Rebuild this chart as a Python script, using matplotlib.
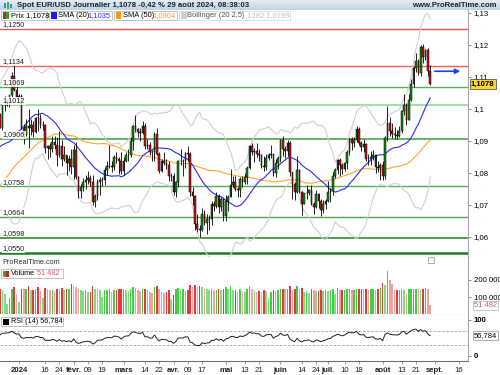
import numpy as np
import pandas as pd
import matplotlib
matplotlib.use("Agg")
import matplotlib.pyplot as plt
from matplotlib.patches import Rectangle
from matplotlib.transforms import blended_transform_factory as btf
from matplotlib.colors import LinearSegmentedColormap

plt.rcParams['font.family'] = ['Liberation Sans', 'DejaVu Sans']

# ---------------- data ----------------
first_date = '2023-12-20'
last_date = '2024-08-29'

# closes before the visible window (used only to warm up the indicators)
warmup_closes = [
    1.0563, 1.0605, 1.0620, 1.0530, 1.0510, 1.0555, 1.0575, 1.0535, 1.0585, 1.0594,
    1.0668, 1.0590, 1.0565, 1.0563, 1.0565, 1.0615, 1.0575,
    1.0570, 1.0620, 1.0730, 1.0710, 1.0695, 1.0710, 1.0665, 1.0685, 1.0700, 1.0880,
    1.0850, 1.0850, 1.0912, 1.0940, 1.0910, 1.0888, 1.0903, 1.0940, 1.0955, 1.0990,
    1.0970, 1.0890,
    1.0880, 1.0835, 1.0795, 1.0765, 1.0795, 1.0760, 1.0765, 1.0795, 1.0875, 1.0990,
    1.0895, 1.0923, 1.0981]

opens = [
    # Dec
    1.0981, 1.0942, 1.1011, 1.1013, 1.1026, 1.1043, 1.1104, 1.1060,
    # Jan
    1.1039, 1.1040, 1.0940, 1.0920, 1.0946, 1.0941, 1.0950, 1.0929, 1.0973, 1.0972,
    1.0950, 1.0951, 1.0878, 1.0884, 1.0874, 1.0896, 1.0886, 1.0855, 1.0884, 1.0845,
    1.0855, 1.0832, 1.0845,
    # Feb
    1.0818, 1.0873, 1.0787, 1.0743, 1.0756, 1.0773, 1.0779, 1.0784, 1.0772, 1.0708,
    1.0727, 1.0773, 1.0777, 1.0778, 1.0808, 1.0821, 1.0823, 1.0820, 1.0850, 1.0845,
    1.0836,
    # Mar
    1.0805, 1.0838, 1.0856, 1.0856, 1.0899, 1.0948, 1.0937, 1.0928, 1.0926, 1.0948,
    1.0883, 1.0889, 1.0867, 1.0865, 1.0922, 1.0860, 1.0806, 1.0839, 1.0831, 1.0826,
    1.0790,
    # Apr
    1.0790, 1.0741, 1.0771, 1.0836, 1.0837, 1.0837, 1.0861, 1.0858, 1.0742, 1.0727,
    1.0642, 1.0625, 1.0622, 1.0671, 1.0643, 1.0655, 1.0655, 1.0703, 1.0698, 1.0729,
    1.0694, 1.0719,
    # May
    1.0665, 1.0713, 1.0726, 1.0762, 1.0772, 1.0751, 1.0748, 1.0781, 1.0771, 1.0789,
    1.0817, 1.0883, 1.0865, 1.0870, 1.0858, 1.0856, 1.0822, 1.0818, 1.0847, 1.0857,
    1.0858, 1.0801, 1.0832,
    # Jun
    1.0848, 1.0903, 1.0876, 1.0868, 1.0893, 1.0802, 1.0765, 1.0740, 1.0810, 1.0740,
    1.0703, 1.0736, 1.0739, 1.0748, 1.0704, 1.0693, 1.0733, 1.0714, 1.0683, 1.0702,
    # Jul
    1.0713, 1.0740, 1.0744, 1.0790, 1.0809, 1.0840, 1.0826, 1.0813, 1.0831, 1.0865,
    1.0907, 1.0894, 1.0902, 1.0938, 1.0895, 1.0882, 1.0892, 1.0845, 1.0843, 1.0850,
    1.0855, 1.0819, 1.0815,
    # Aug
    1.0825, 1.0790, 1.0910, 1.0955, 1.0931, 1.0922, 1.0920, 1.0916, 1.0931, 1.0993,
    1.1012, 1.0967, 1.1027, 1.1077, 1.1129, 1.1151, 1.1113, 1.1193, 1.1162, 1.1184,
    1.1118]

highs = [
    1.0988, 1.1013, 1.1040, 1.1030, 1.1045, 1.1115, 1.1139, 1.1078,
    1.1048, 1.1046, 1.0954, 1.0970, 1.1000, 1.0968, 1.0963, 1.0975, 1.0999, 1.0985,
    1.0963, 1.0953, 1.0888, 1.0895, 1.0915, 1.0915, 1.0913, 1.0932, 1.0904, 1.0885,
    1.0857, 1.0855, 1.0874,
    1.0889, 1.0897, 1.0790, 1.0765, 1.0785, 1.0793, 1.0805, 1.0793, 1.0795, 1.0735,
    1.0780, 1.0788, 1.0789, 1.0820, 1.0838, 1.0888, 1.0838, 1.0856, 1.0865, 1.0850,
    1.0866,
    1.0850, 1.0867, 1.0875, 1.0911, 1.0951, 1.0981, 1.0942, 1.0941, 1.0964, 1.0956,
    1.0907, 1.0898, 1.0872, 1.0929, 1.0942, 1.0865, 1.0843, 1.0866, 1.0843, 1.0838,
    1.0799,
    1.0800, 1.0775, 1.0840, 1.0876, 1.0843, 1.0866, 1.0885, 1.0866, 1.0755, 1.0730,
    1.0673, 1.0637, 1.0691, 1.0683, 1.0673, 1.0668, 1.0714, 1.0713, 1.0742, 1.0735,
    1.0725, 1.0723,
    1.0730, 1.0731, 1.0811, 1.0790, 1.0790, 1.0757, 1.0786, 1.0790, 1.0800, 1.0823,
    1.0887, 1.0895, 1.0878, 1.0894, 1.0874, 1.0860, 1.0852, 1.0858, 1.0864, 1.0889,
    1.0860, 1.0845, 1.0852,
    1.0907, 1.0916, 1.0885, 1.0902, 1.0901, 1.0804, 1.0771, 1.0852, 1.0813, 1.0744,
    1.0739, 1.0762, 1.0751, 1.0761, 1.0710, 1.0746, 1.0739, 1.0718, 1.0715, 1.0720,
    1.0776, 1.0752, 1.0802, 1.0816, 1.0845, 1.0846, 1.0830, 1.0834, 1.0871, 1.0910,
    1.0911, 1.0912, 1.0948, 1.0943, 1.0901, 1.0905, 1.0895, 1.0858, 1.0868, 1.0871,
    1.0858, 1.0838, 1.0830,
    1.0836, 1.0916, 1.1009, 1.0975, 1.0956, 1.0945, 1.0935, 1.0947, 1.0997, 1.1047,
    1.1020, 1.1048, 1.1093, 1.1133, 1.1174, 1.1155, 1.1201, 1.1202, 1.1189, 1.1190,
    1.1139]

lows = [
    1.0940, 1.0935, 1.0995, 1.1010, 1.1005, 1.1036, 1.1055, 1.1031,
    1.1030, 1.0939, 1.0892, 1.0915, 1.0877, 1.0920, 1.0914, 1.0925, 1.0930, 1.0940,
    1.0933, 1.0862, 1.0844, 1.0850, 1.0865, 1.0876, 1.0822, 1.0850, 1.0821, 1.0838,
    1.0795, 1.0805, 1.0796,
    1.0780, 1.0780, 1.0723, 1.0722, 1.0745, 1.0750, 1.0765, 1.0760, 1.0701, 1.0695,
    1.0715, 1.0732, 1.0760, 1.0762, 1.0795, 1.0815, 1.0804, 1.0808, 1.0830, 1.0796,
    1.0797,
    1.0794, 1.0833, 1.0839, 1.0849, 1.0872, 1.0929, 1.0911, 1.0900, 1.0922, 1.0876,
    1.0875, 1.0856, 1.0836, 1.0838, 1.0855, 1.0801, 1.0803, 1.0826, 1.0811, 1.0775,
    1.0774,
    1.0731, 1.0724, 1.0757, 1.0826, 1.0791, 1.0816, 1.0836, 1.0728, 1.0699, 1.0622,
    1.0617, 1.0601, 1.0618, 1.0638, 1.0610, 1.0623, 1.0636, 1.0680, 1.0690, 1.0675,
    1.0682, 1.0650,
    1.0650, 1.0680, 1.0724, 1.0755, 1.0744, 1.0724, 1.0725, 1.0755, 1.0765, 1.0767,
    1.0812, 1.0855, 1.0835, 1.0851, 1.0837, 1.0815, 1.0805, 1.0810, 1.0840, 1.0847,
    1.0790, 1.0789, 1.0812,
    1.0835, 1.0852, 1.0848, 1.0852, 1.0790, 1.0719, 1.0717, 1.0738, 1.0736, 1.0668,
    1.0702, 1.0718, 1.0730, 1.0700, 1.0671, 1.0690, 1.0690, 1.0666, 1.0676, 1.0686,
    1.0710, 1.0710, 1.0730, 1.0784, 1.0797, 1.0791, 1.0798, 1.0806, 1.0814, 1.0856,
    1.0872, 1.0880, 1.0897, 1.0886, 1.0869, 1.0867, 1.0837, 1.0825, 1.0826, 1.0840,
    1.0801, 1.0802, 1.0777,
    1.0777, 1.0780, 1.0900, 1.0916, 1.0909, 1.0905, 1.0905, 1.0912, 1.0925, 1.0982,
    1.0949, 1.0965, 1.1024, 1.1070, 1.1115, 1.1105, 1.1102, 1.1143, 1.1152, 1.1102,
    1.1074]

closes = [
    1.0942, 1.1011, 1.1013, 1.1026, 1.1043, 1.1104, 1.1060, 1.1039,
    1.1040, 1.0940, 1.0920, 1.0946, 1.0941, 1.0950, 1.0929, 1.0973, 1.0972, 1.0950,
    1.0951, 1.0878, 1.0884, 1.0874, 1.0896, 1.0886, 1.0855, 1.0884, 1.0845, 1.0855,
    1.0832, 1.0845, 1.0818,
    1.0873, 1.0787, 1.0743, 1.0756, 1.0773, 1.0779, 1.0784, 1.0772, 1.0708, 1.0727,
    1.0773, 1.0777, 1.0778, 1.0808, 1.0821, 1.0823, 1.0820, 1.0850, 1.0845, 1.0836,
    1.0805,
    1.0838, 1.0856, 1.0856, 1.0899, 1.0948, 1.0937, 1.0928, 1.0926, 1.0948, 1.0883,
    1.0889, 1.0867, 1.0865, 1.0922, 1.0860, 1.0806, 1.0839, 1.0831, 1.0826, 1.0790,
    1.0790,
    1.0741, 1.0771, 1.0836, 1.0837, 1.0837, 1.0861, 1.0858, 1.0742, 1.0727, 1.0642,
    1.0625, 1.0622, 1.0671, 1.0643, 1.0655, 1.0655, 1.0703, 1.0698, 1.0729, 1.0694,
    1.0719, 1.0665,
    1.0713, 1.0726, 1.0762, 1.0772, 1.0751, 1.0748, 1.0781, 1.0771, 1.0789, 1.0817,
    1.0883, 1.0865, 1.0870, 1.0858, 1.0856, 1.0822, 1.0818, 1.0847, 1.0857, 1.0858,
    1.0801, 1.0832, 1.0848,
    1.0903, 1.0876, 1.0868, 1.0893, 1.0802, 1.0765, 1.0740, 1.0810, 1.0740, 1.0703,
    1.0736, 1.0739, 1.0748, 1.0704, 1.0693, 1.0733, 1.0714, 1.0683, 1.0702, 1.0713,
    1.0740, 1.0744, 1.0790, 1.0809, 1.0840, 1.0826, 1.0813, 1.0831, 1.0865, 1.0907,
    1.0894, 1.0902, 1.0938, 1.0895, 1.0882, 1.0892, 1.0845, 1.0843, 1.0850, 1.0855,
    1.0819, 1.0815, 1.0825,
    1.0790, 1.0910, 1.0955, 1.0931, 1.0922, 1.0920, 1.0916, 1.0931, 1.0993, 1.1012,
    1.0967, 1.1027, 1.1077, 1.1129, 1.1151, 1.1113, 1.1193, 1.1162, 1.1184, 1.1118,
    1.1078]

volumes = [
    150000, 140000, 120000, 60000, 95000, 145000, 160000, 120000,
    70000, 150000, 148000, 150000, 165000, 140000, 140000, 150000, 160000, 138000,
    95000, 155000, 145000, 140000, 140000, 135000, 150000, 145000, 155000, 140000,
    145000, 150000, 175000,
    165000, 160000, 150000, 140000, 135000, 140000, 130000, 130000, 165000, 150000,
    145000, 140000, 100000, 140000, 140000, 150000, 130000, 140000, 140000, 145000,
    150000,
    150000, 140000, 135000, 150000, 160000, 155000, 140000, 135000, 145000, 150000,
    140000, 130000, 125000, 160000, 165000, 150000, 130000, 125000, 130000, 140000,
    90000,
    110000, 150000, 155000, 150000, 150000, 135000, 140000, 170000, 160000, 170000,
    160000, 165000, 160000, 150000, 145000, 140000, 145000, 140000, 140000, 145000,
    140000, 150000,
    160000, 150000, 165000, 140000, 140000, 130000, 145000, 135000, 130000, 150000,
    165000, 150000, 140000, 130000, 135000, 130000, 140000, 135000, 95000, 130000,
    140000, 135000, 140000,
    145000, 150000, 145000, 150000, 165000, 140000, 145000, 165000, 150000, 155000,
    130000, 135000, 125000, 145000, 140000, 135000, 135000, 140000, 135000, 140000,
    135000, 140000, 150000, 120000, 155000, 140000, 140000, 140000, 150000, 150000,
    140000, 140000, 150000, 150000, 150000, 145000, 150000, 140000, 145000, 150000,
    140000, 145000, 155000,
    180000, 170000, 255000, 200000, 175000, 140000, 140000, 140000, 150000, 140000,
    125000, 150000, 150000, 150000, 150000, 145000, 140000, 150000, 155000, 145000,
    51482]

level_values = [1.1250, 1.1134, 1.1069, 1.1012, 1.0906, 1.0758, 1.0664, 1.0598, 1.0550]
level_labels = ['1,1250', '1,1134', '1,1069', '1,1012', '1,0906', '1,0758', '1,0664', '1,0598', '1,0550']
level_colors = ['#ff4a4a', '#ff5a5a', '#55b055', '#a9dca9', '#3f9f3f', '#5aaa5a', '#4aa84a', '#2f8f2f', '#1f7a1f']
level_widths = [1.0, 1.0, 1.0, 1.6, 1.1, 1.0, 1.0, 1.2, 1.8]

xtick_dates = ['2024-01-01', '2024-01-16', '2024-01-24', '2024-02-01', '2024-02-09',
               '2024-02-19', '2024-03-01', '2024-03-14', '2024-03-22', '2024-04-01',
               '2024-04-09', '2024-04-17', '2024-05-01', '2024-05-13', '2024-05-21',
               '2024-06-03', '2024-06-14', '2024-06-24', '2024-07-01', '2024-07-10',
               '2024-07-18', '2024-08-01', '2024-08-13', '2024-08-21', '2024-09-02',
               '2024-09-16']
xtick_labels = ['2024', '16', '24', 'févr.', '09', '19', 'mars', '14', '22', 'avr.',
                '09', '17', 'mai', '13', '21', 'juin', '14', '24', 'juil.', '10', '18',
                'août', '13', '21', 'sept.', '16']
xtick_bold = ['2024', 'févr.', 'mars', 'avr.', 'mai', 'juin', 'juil.', 'août', 'sept.']

price_ticks = [1.06, 1.07, 1.08, 1.09, 1.10, 1.11, 1.12, 1.13]

title_text = 'Spot EUR/USD Journalier 1,1078 -0,42 % 29 août 2024, 08:38:03'
# ---------------- computations ----------------
dates = pd.bdate_range(first_date, last_date)
n = len(dates)
idx = np.arange(n)
o = np.array(opens); h = np.array(highs); l = np.array(lows); c = np.array(closes)
v = np.array(volumes)

allc = pd.Series(warmup_closes + closes)
sma20 = allc.rolling(20).mean().values[-n:]
sma50 = allc.rolling(50).mean().values[-n:]
sd20 = allc.rolling(20).std(ddof=0).values[-n:]
bb_up = sma20 + 2.5 * sd20
bb_lo = sma20 - 2.5 * sd20
delta = allc.diff()
gain = delta.clip(lower=0).ewm(alpha=1/14, adjust=False).mean()
loss = (-delta.clip(upper=0)).ewm(alpha=1/14, adjust=False).mean()
rsi = (100 - 100 / (1 + gain / loss)).values[-n:]

ext_dates = pd.bdate_range(first_date, '2024-09-30')
xt_pos = [ext_dates.get_loc(pd.Timestamp(d)) for d in xtick_dates]

W, H = 500.0, 375.0
def fx(x): return x / W
def fy(y): return 1 - y / H

fig = plt.figure(figsize=(5, 3.75), dpi=100)
fig.patch.set_facecolor('white')

# pixel <-> index mapping (index 8 = 1 Jan 2024 at x=19, 2.377 px per day)
px_day = 2.377
x_left = 8 - 19 / px_day
x_right = 8 + (468 - 19) / px_day

def add_axes(y0, y1):
    a = fig.add_axes([0, fy(y1), fx(468), (y1 - y0) / H])
    a.set_xlim(x_left, x_right)
    a.set_facecolor('white')
    for s in ['top', 'left']:
        a.spines[s].set_visible(False)
    a.spines['right'].set_color('#a8a8a8')
    a.spines['right'].set_linewidth(0.8)
    a.spines['bottom'].set_color('#707070')
    a.spines['bottom'].set_linewidth(0.8)
    a.yaxis.tick_right()
    a.tick_params(axis='y', length=2, width=0.6, colors='#808080', labelcolor='black',
                  labelsize=5.6, pad=2)
    a.tick_params(axis='x', length=0, labelbottom=False)
    return a

# ---------- main price axes ----------
ax = add_axes(10, 257)
ppx = 3200.0
ax.set_ylim(1.12 - (257 - 45) / ppx, 1.12 + (45 - 10) / ppx)
ax.set_yticks(price_ticks)
ax.set_yticklabels([('%.2f' % t).rstrip('0').replace('.', ',') for t in price_ticks])

bt = btf(ax.transAxes, ax.transData)
for val, lab, col, lw in zip(level_values, level_labels, level_colors, level_widths):
    ax.axhline(val, color=col, lw=lw, zorder=2)
    ax.text(0.006, val + 0.0002, lab, transform=bt, fontsize=5.2, va='bottom', ha='left',
            color='#202020', zorder=6,
            bbox=dict(facecolor='white', edgecolor='none', pad=0.3, alpha=0.85))

ax.plot(idx, bb_up, color='#d0d0d0', lw=0.8, zorder=3)
ax.plot(idx, bb_lo, color='#d0d0d0', lw=0.8, zorder=3)
ax.plot(idx, sma50, color='#ffa52a', lw=0.8, zorder=3)
ax.plot(idx, sma20, color='#2a2aff', lw=0.8, zorder=3)

up = c >= o
ax.vlines(idx, l, h, colors='black', lw=0.6, zorder=4)
body_bottom = np.minimum(o, c)
body_h = np.maximum(np.abs(c - o), 0.00012)
ax.bar(idx, body_h, bottom=body_bottom, width=0.7,
       color=np.where(up, '#138a13', '#c41414'), edgecolor='black', linewidth=0.35, zorder=5)

# arrow at the previous close
ax.annotate('', xy=(8 + (463 - 19) / px_day, closes[-2]), xytext=(8 + (432 - 19) / px_day, closes[-2]),
            arrowprops=dict(arrowstyle='-|>', color='#2040e0', lw=1.2, mutation_scale=7), zorder=7)
ax.text(1.006, closes[-1], '1,1078', transform=bt, fontsize=5.6, fontweight='bold', va='center',
        ha='left', clip_on=False, zorder=8,
        bbox=dict(facecolor='#ffd526', edgecolor='#404040', pad=0.8, lw=0.5))

# ---------- volume axes ----------
axv = add_axes(257, 315)
vpx = 17.0 / 100000
axv.set_ylim(-(315 - 314) / vpx, (314 - 257) / vpx)
prev = np.concatenate([[v[0]], v[:-1]])
vcol = np.where(up, np.where(v >= prev, '#3fcf3f', '#7fdc7f'),
                np.where(v >= prev, '#e23a3a', '#f3a0a0'))
axv.bar(idx, v, width=0.65, color=vcol, zorder=3)
axv.set_yticks([100000, 200000])
axv.set_yticklabels(['100 000', '200 000'])
axv.spines['bottom'].set_color('#808080')
btv = btf(axv.transAxes, axv.transData)
axv.text(1.012, volumes[-1] * 1.0, '51 482', transform=btv, fontsize=5.4, color='#e05a5a',
         va='center', ha='left', clip_on=False, zorder=8,
         bbox=dict(facecolor='white', edgecolor='#b0b0b0', pad=0.6, lw=0.5))

# ---------- RSI axes ----------
axr = add_axes(315, 361)
rpx = 36.0 / 100
axr.set_ylim(-(361 - 356) / rpx, (356 - 315) / rpx)
axr.axhline(70, color='#a0a0a0', lw=0.6, ls=(0, (3, 2)))
axr.axhline(30, color='#a0a0a0', lw=0.6, ls=(0, (3, 2)))
axr.plot(idx, rsi, color='#202020', lw=0.7, zorder=3)
axr.set_yticks([0, 100])
axr.set_yticklabels(['0', '100'], fontweight='bold')
btr = btf(axr.transAxes, axr.transData)
axr.text(1.012, rsi[-1], '56,784', transform=btr, fontsize=5.4, color='black',
         va='center', ha='left', clip_on=False, zorder=8,
         bbox=dict(facecolor='white', edgecolor='#909090', pad=0.6, lw=0.5))
axr.set_xticks(xt_pos)
axr.tick_params(axis='x', length=2.5, width=0.6, colors='#909090', labelcolor='#202020',
                labelbottom=True, labelsize=5.6, pad=2, direction='out')
axr.set_xticklabels(xtick_labels)
for t in axr.get_xticklabels():
    if t.get_text() in xtick_bold:
        t.set_fontweight('bold')

# ---------- title bar ----------
axt = fig.add_axes([0, fy(10), 1, 10 / H])
grad = np.linspace(0, 1, 20).reshape(-1, 1)
cm = LinearSegmentedColormap.from_list('g', ['#e6edf4', '#c3d3e3'])
axt.imshow(grad, aspect='auto', cmap=cm, extent=[0, 1, 0, 1])
axt.set_axis_off()
fig.text(fx(17), fy(5.2), title_text, fontsize=5.6, fontweight='bold', color='#12243a',
         va='center', ha='left')
fig.text(fx(497), fy(5.2), 'www.ProRealTime.com', fontsize=5.6, fontweight='bold',
         color='#12243a', va='center', ha='right')
# small icon
fig.patches.append(Rectangle((fx(4), fy(8)), fx(2), 5 / H, transform=fig.transFigure,
                             facecolor='#2f8fd0', edgecolor='none'))
fig.patches.append(Rectangle((fx(7), fy(9)), fx(2), 7 / H, transform=fig.transFigure,
                             facecolor='#46b046', edgecolor='none'))
fig.patches.append(Rectangle((fx(10), fy(8)), fx(2), 4 / H, transform=fig.transFigure,
                             facecolor='#2f8fd0', edgecolor='none'))

def box(x0, y0, x1, y1, fc='white', ec='#b8b8b8', lw=0.6, z=6):
    fig.patches.append(Rectangle((fx(x0), fy(y1)), fx(x1) - fx(x0), (y1 - y0) / H,
                                 transform=fig.transFigure, facecolor=fc, edgecolor=ec,
                                 linewidth=lw, zorder=z))

def sq(x0, y0, size, colors):
    k = len(colors)
    for j, col in enumerate(colors):
        box(x0 + j * size / k, y0, x0 + (j + 1) * size / k, y0 + size, fc=col, ec='none', z=7)

def ftext(x, y, s, **kw):
    kw.setdefault('fontsize', 5.4)
    fig.text(fx(x), fy(y), s, va='center', ha='left', zorder=8, **kw)

# legend row of the price panel
box(1, 11, 47, 20)
sq(2.5, 12.5, 6, ['#d42020', '#2aa82a'])
ftext(11, 15.7, 'Prix 1,1078', color='black')
box(49, 11, 112, 20)
sq(50.5, 12.5, 6, ['#1a1aff'])
ftext(58, 15.7, 'SMA (20)', color='black')
ftext(87, 15.7, '1,1035', color='#2a2aff')
box(114, 11, 177, 20)
sq(115.5, 12.5, 6, ['#ff9a10'])
ftext(123, 15.7, 'SMA (50)', color='black')
ftext(152, 15.7, '1,0904', color='#ff9a10')
box(179, 11, 290, 20, ec='#d8d8d8')
sq(180.5, 12.5, 6, ['#d0d0d0'])
ftext(187, 15.7, 'Bollinger (20 2,5)', color='#505050')
ftext(241, 15.7, '1,1282 1,0789', color='#c0c0c0')

# volume panel labels
ftext(2, 262.5, 'ProRealTime.com', color='#303030', fontsize=5.2)
box(1, 269, 63, 278)
sq(2.5, 270.5, 6, ['#2aa82a', '#d42020'])
ftext(11, 273.7, 'Volume', color='black', fontsize=5.2)
ftext(37, 273.7, '51 482', color='#e05a5a', fontsize=5.2)
box(428, 257, 434, 263, ec='#a0a0a0')

# RSI panel label
box(1, 317, 63, 326)
sq(2.5, 318.5, 6, ['black'])
ftext(11, 321.7, 'RSI (14) 56,784', color='black', fontsize=5.2)

fig.savefig('out.png', dpi=100, facecolor='white')
